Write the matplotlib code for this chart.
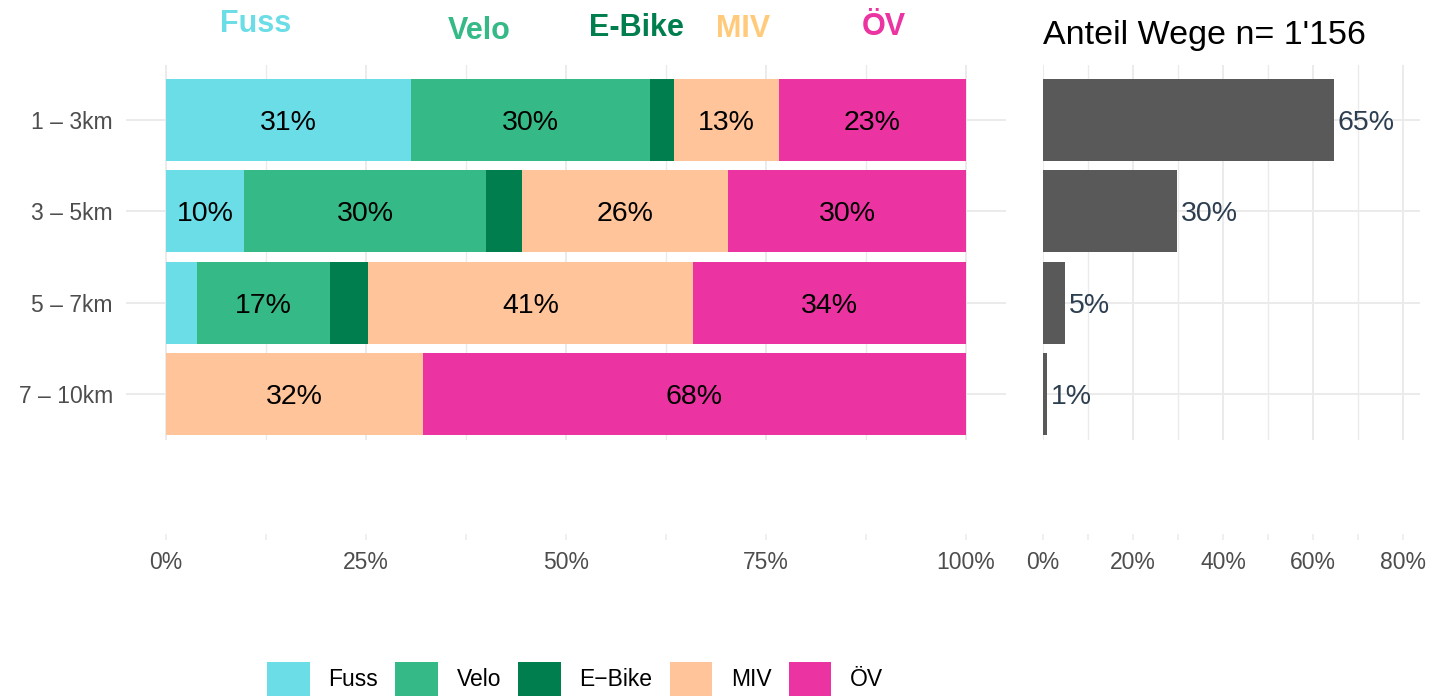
import matplotlib
matplotlib.use('Agg')
import matplotlib.pyplot as plt
from matplotlib.patches import Patch
from matplotlib.ticker import MultipleLocator, FuncFormatter
import numpy as np

plt.rcParams['font.family'] = ['Liberation Sans', 'DejaVu Sans']

# data (percent)
distances = ['1 – 3km', '3 – 5km', '5 – 7km', '7 – 10km']
modes = ['Fuss', 'Velo', 'E-Bike', 'MIV', 'ÖV']
legend_names = ['Fuss', 'Velo', 'E\u2212Bike', 'MIV', 'ÖV']
fuss = [30.6, 9.75, 3.9, 0.0]
velo = [29.9, 30.25, 16.6, 0.0]
ebike = [3.0, 4.5, 4.75, 0.0]
miv = [13.1, 25.75, 40.6, 32.1]
oev = [23.4, 29.75, 34.15, 67.9]
share = [64.6, 29.8, 4.9, 0.9]   # Anteil Wege
n_wege = "1'156"

bar_cols = ['#6ADDE6', '#35B987', '#007E4E', '#FFC49A', '#EB33A1']
head_cols = ['#6ADDE6', '#35B987', '#007E4E', '#FFCA7A', '#EB33A1']
grid_col = '#EBEBEB'
W, H = 1443, 698

def fx(px):
    return px / W

def fy(py):
    return 1 - py / H

def pct(v):
    return '%d%%' % int(v + 0.5)

fig = plt.figure(figsize=(W / 100, H / 100), dpi=100)
ax1 = fig.add_axes([fx(126), fy(440), fx(1006) - fx(126), (440 - 65) / H])
ax2 = fig.add_axes([fx(1043), fy(440), fx(1420) - fx(1043), (440 - 65) / H])

ypos = np.arange(len(distances))
series = [fuss, velo, ebike, miv, oev]
left = np.zeros(len(distances))
for vals, col in zip(series, bar_cols):
    vals = np.array(vals)
    ax1.barh(ypos, vals, left=left, height=0.9, color=col, zorder=2)
    for y, v, l in zip(ypos, vals, left):
        if v >= 8:
            ax1.text(l + v / 2, y, pct(v), ha='center', va='center_baseline',
                     fontsize=20.5, color='black', zorder=3)
    left = left + vals

ax2.barh(ypos, share, height=0.9, color='#595959', zorder=2)
for y, v in zip(ypos, share):
    ax2.annotate(pct(v), (v, y), xytext=(3, 0), textcoords='offset points',
                 ha='left', va='center_baseline', fontsize=20.5, color='#2C3E50')

ax1.set_xlim(-5, 105)
ax2.set_xlim(0, 83.8)
ax1.xaxis.set_major_locator(MultipleLocator(25))
ax1.xaxis.set_minor_locator(MultipleLocator(12.5))
ax2.xaxis.set_major_locator(MultipleLocator(20))
ax2.xaxis.set_minor_locator(MultipleLocator(10))

for ax in (ax1, ax2):
    ax.set_ylim(3.5, -0.6)
    ax.set_yticks(ypos)
    ax.set_axisbelow(True)
    ax.grid(axis='x', which='major', color=grid_col, lw=1.4, zorder=0)
    ax.grid(axis='x', which='minor', color=grid_col, lw=1.0, zorder=0)
    ax.grid(axis='y', which='major', color=grid_col, lw=1.4, zorder=0)
    for s in ax.spines.values():
        s.set_color('none')
    ax.spines['bottom'].set_position(('outward', 67.5))
    ax.xaxis.set_major_formatter(FuncFormatter(lambda v, p: '%d%%' % round(v)))
    ax.tick_params(axis='x', which='both', length=4.3, width=1.1, color=grid_col,
                   direction='out', pad=8, labelsize=16.5, labelcolor='#4D4D4D')
    ax.tick_params(axis='y', length=0, pad=9.4, labelsize=16.5, labelcolor='#4D4D4D')

ax1.set_yticklabels(distances)
ax2.set_yticklabels([])

# coloured mode headings above the bars
head_x = [256, 479, 636, 743, 884]
head_y = [32, 39, 36, 37, 35]
for name, col, x, y in zip(modes, head_cols, head_x, head_y):
    fig.text(fx(x), fy(y), name, ha='center', va='baseline', fontsize=22,
             fontweight='bold', color=col)

fig.text(fx(1043), fy(44), 'Anteil Wege n= ' + n_wege, ha='left', va='baseline',
         fontsize=24.5, color='black')

handles = [Patch(facecolor=c, edgecolor='none', label=n) for c, n in zip(bar_cols, legend_names)]
fig.legend(handles=handles, loc='center', bbox_to_anchor=(fx(575), fy(679)), ncol=5,
           frameon=False, fontsize=16.5, handlelength=1.87, handleheight=1.95,
           handletextpad=0.8, columnspacing=0.75, borderpad=0)

fig.savefig('out.png', dpi=100)
